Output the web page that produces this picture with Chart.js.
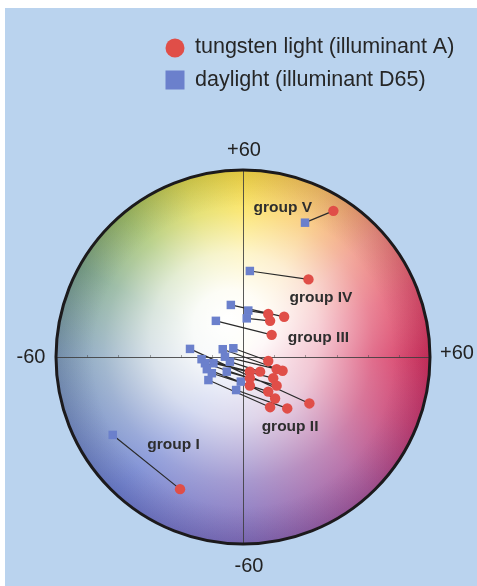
<!DOCTYPE html>
<html>
<head>
<meta charset="utf-8">
<script src="https://cdn.jsdelivr.net/npm/chart.js@4/dist/chart.umd.min.js"></script>
<style>
  html, body { margin: 0; padding: 0; background: #ffffff; }
  #wrap { position: absolute; left: 0; top: 0; width: 477px; height: 586px; }
</style>
</head>
<body>
<div id="wrap"><canvas id="c" width="477" height="586"></canvas></div>
<script>
// ---- data (a*, b* coordinates) ----
const seriesLabels = ['tungsten light (illuminant A)', 'daylight (illuminant D65)'];
// paired samples: index i of daylight matches index i of tungsten
const daylightX = [19.9, 2.2, -3.9, 1.7, 1.2, -8.7, -17.0, -3.1, -6.5, -5.8, -4.2, -13.3, -12.2, -9.5, -5.2, -10.0, -11.1, -0.7, -2.2, -11.6, -41.8];
const daylightY = [43.1, 27.6, 16.7, 14.9, 12.4, 11.6, 2.6, 2.8, 2.5, 0.1, -1.5, -0.7, -2.0, -2.0, -4.7, -5.2, -7.4, -7.9, -10.6, -3.9, -25.0];
const tungstenX = [29.0, 21.0, 13.2, 8.1, 8.7, 9.2, 21.3, 8.1, 12.7, 10.8, 5.5, 2.2, 2.2, 9.7, 10.8, 8.1, 8.7, 10.3, 14.2, 2.2, -20.2];
const tungstenY = [46.9, 24.9, 12.9, 13.8, 11.6, 7.1, -14.9, -1.3, -4.4, -3.9, -4.7, -4.7, -6.8, -6.8, -9.2, -11.1, -16.1, -13.3, -16.5, -9.2, -42.4];
const groupNames = ['group V', 'group IV', 'group III', 'group II', 'group I'];
const groupX = [12.8, 25.0, 24.2, 15.1, -22.3];
const groupY = [47.8, 18.9, 6.1, -22.5, -28.2];
const axisMin = -60, axisMax = 60;
const axisTickLabels = { top: '+60', bottom: '-60', left: '-60', right: '+60' };

// ---- build datasets ----
const redPts = tungstenX.map((x, i) => ({ x, y: tungstenY[i] }));
const bluePts = daylightX.map((x, i) => ({ x, y: daylightY[i] }));
const linkPts = [];
daylightX.forEach((x, i) => {
  linkPts.push({ x, y: daylightY[i] });
  linkPts.push({ x: tungstenX[i], y: tungstenY[i] });
  linkPts.push({ x: null, y: null });
});

const RED = '#e04e48';
const BLUE = '#6b80cc';
const BG = '#bad3ee';
const FONT = '"Liberation Sans", Arial, Helvetica, sans-serif';

const diskPlugin = {
  id: 'disk',
  beforeDraw(chart) {
    const { ctx } = chart;
    ctx.save();
    ctx.fillStyle = '#ffffff';
    ctx.fillRect(0, 0, chart.width, chart.height);
    ctx.fillStyle = BG;
    ctx.fillRect(5, 8, chart.width - 5, chart.height - 8);
    ctx.restore();
  },
  beforeDatasetsDraw(chart) {
    const { ctx, scales: { x, y } } = chart;
    const cx = x.getPixelForValue(0), cy = y.getPixelForValue(0);
    const R = x.getPixelForValue(axisMax) - cx;
    ctx.save();
    ctx.beginPath();
    ctx.arc(cx, cy, R, 0, Math.PI * 2);
    ctx.clip();
    const g = ctx.createConicGradient(0, cx, cy);
    const stops = [
      [0.00, 'rgb(212,46,90)'],
      [0.06, 'rgb(198,60,112)'],
      [0.13, 'rgb(170,86,152)'],
      [0.25, 'rgb(128,110,188)'],
      [0.37, 'rgb(106,126,206)'],
      [0.50, 'rgb(124,156,184)'],
      [0.58, 'rgb(120,164,134)'],
      [0.64, 'rgb(156,190,96)'],
      [0.70, 'rgb(218,214,72)'],
      [0.75, 'rgb(250,222,62)'],
      [0.82, 'rgb(248,192,98)'],
      [0.88, 'rgb(238,140,122)'],
      [0.94, 'rgb(226,84,108)'],
      [1.00, 'rgb(212,46,90)']
    ];
    stops.forEach(s => g.addColorStop(s[0], s[1]));
    ctx.fillStyle = g;
    ctx.fillRect(cx - R, cy - R, 2 * R, 2 * R);
    // whitening toward the centre
    const wx = x.getPixelForValue(-5), wy = y.getPixelForValue(12);
    const rg = ctx.createRadialGradient(wx, wy, 0, cx, cy, R);
    rg.addColorStop(0, 'rgba(255,255,255,1)');
    rg.addColorStop(0.2, 'rgba(255,255,255,0.95)');
    rg.addColorStop(0.45, 'rgba(255,255,255,0.72)');
    rg.addColorStop(0.72, 'rgba(255,255,255,0.3)');
    rg.addColorStop(1, 'rgba(255,255,255,0)');
    ctx.fillStyle = rg;
    ctx.fillRect(cx - R, cy - R, 2 * R, 2 * R);
    // slight darkening at the rim
    const vg = ctx.createRadialGradient(cx, cy, R * 0.8, cx, cy, R);
    vg.addColorStop(0, 'rgba(40,20,60,0)');
    vg.addColorStop(1, 'rgba(40,20,60,0.12)');
    ctx.fillStyle = vg;
    ctx.fillRect(cx - R, cy - R, 2 * R, 2 * R);
    ctx.restore();

    // axes
    ctx.save();
    ctx.strokeStyle = 'rgba(60,60,60,0.85)';
    ctx.lineWidth = 1;
    ctx.beginPath();
    ctx.moveTo(x.getPixelForValue(axisMin), cy + 0.5);
    ctx.lineTo(x.getPixelForValue(axisMax), cy + 0.5);
    ctx.moveTo(cx + 0.5, y.getPixelForValue(axisMax));
    ctx.lineTo(cx + 0.5, y.getPixelForValue(axisMin));
    ctx.stroke();
    ctx.strokeStyle = 'rgba(60,60,60,0.45)';
    ctx.beginPath();
    for (let v = -50; v <= 50; v += 10) {
      if (v === 0) continue;
      const px = Math.round(x.getPixelForValue(v)) + 0.5;
      ctx.moveTo(px, cy - 2); ctx.lineTo(px, cy + 0.5);
    }
    ctx.stroke();
    // rim
    ctx.beginPath();
    ctx.arc(cx, cy, R, 0, Math.PI * 2);
    ctx.lineWidth = 3;
    ctx.strokeStyle = '#1c1a1c';
    ctx.stroke();
    ctx.restore();
  },
  afterDraw(chart) {
    const { ctx, scales: { x, y } } = chart;
    const cx = x.getPixelForValue(0), cy = y.getPixelForValue(0);
    ctx.save();
    ctx.fillStyle = '#222';
    ctx.font = '20px ' + FONT;
    ctx.textAlign = 'center';
    ctx.textBaseline = 'middle';
    ctx.fillText(axisTickLabels.top, cx + 1, y.getPixelForValue(axisMax) - 20);
    ctx.fillText(axisTickLabels.bottom, cx + 6, y.getPixelForValue(axisMin) + 22);
    ctx.fillText(axisTickLabels.left, x.getPixelForValue(axisMin) - 25, cy);
    ctx.fillText(axisTickLabels.right, x.getPixelForValue(axisMax) + 27, cy - 4);

    // group labels
    ctx.fillStyle = '#2e2e2e';
    ctx.font = 'bold 15.5px ' + FONT;
    groupNames.forEach((n, i) => {
      ctx.fillText(n, x.getPixelForValue(groupX[i]), y.getPixelForValue(groupY[i]));
    });

    // legend
    ctx.textAlign = 'left';
    ctx.font = '21.5px ' + FONT;
    ctx.fillStyle = RED;
    ctx.beginPath();
    ctx.arc(175, 48, 9.5, 0, Math.PI * 2);
    ctx.fill();
    ctx.fillStyle = BLUE;
    ctx.fillRect(165.5, 70.5, 19, 19);
    ctx.fillStyle = '#262626';
    ctx.fillText(seriesLabels[0], 195, 47);
    ctx.fillText(seriesLabels[1], 195, 80);
    ctx.restore();
  }
};

new Chart(document.getElementById('c'), {
  type: 'scatter',
  data: {
    datasets: [
      {
        label: seriesLabels[0],
        data: redPts,
        pointStyle: 'circle',
        pointRadius: 5.2,
        pointBackgroundColor: RED,
        pointBorderWidth: 0,
        order: 1
      },
      {
        label: seriesLabels[1],
        data: bluePts,
        pointStyle: 'rect',
        pointRadius: 6,
        pointBackgroundColor: BLUE,
        pointBorderWidth: 0,
        order: 2
      },
      {
        label: 'links',
        data: linkPts,
        showLine: true,
        spanGaps: false,
        borderColor: '#2a2a2a',
        borderWidth: 1.2,
        pointRadius: 0,
        order: 3
      }
    ]
  },
  options: {
    responsive: false,
    animation: false,
    devicePixelRatio: 1,
    layout: { padding: { left: 56, right: 47, top: 170, bottom: 42 } },
    scales: {
      x: { type: 'linear', min: axisMin, max: axisMax, display: false },
      y: { type: 'linear', min: axisMin, max: axisMax, display: false }
    },
    plugins: {
      legend: { display: false },
      tooltip: { enabled: false }
    }
  },
  plugins: [diskPlugin]
});
</script>
</body>
</html>
